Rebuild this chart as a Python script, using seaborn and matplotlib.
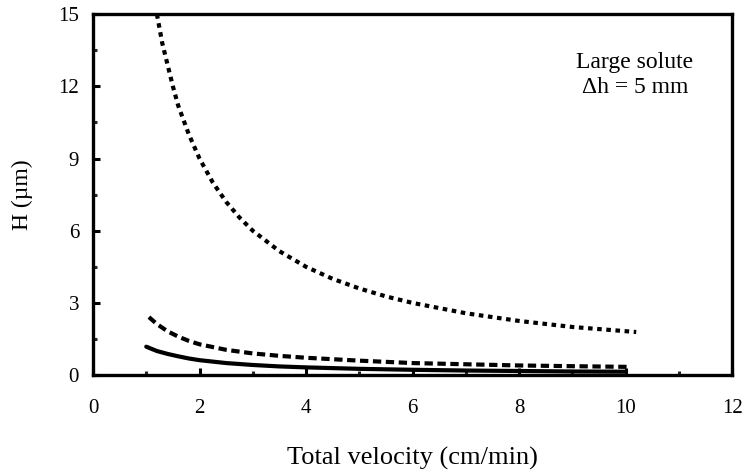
import matplotlib
matplotlib.use("Agg")
import matplotlib.pyplot as plt
import seaborn as sns
import pandas as pd
from matplotlib.ticker import MultipleLocator

# Data
v_top = [1.2, 1.3, 1.4, 1.5, 1.6, 1.8, 2.0, 2.25, 2.5, 2.75, 3.0, 3.5, 4.0, 4.5, 5.0, 5.5, 6.0, 7.0, 8.0, 9.0, 10.2]
h_top = [15.0, 13.8, 12.9, 12.0, 11.2, 10.0, 9.0, 8.0, 7.2, 6.55, 6.0, 5.15, 4.5, 4.0, 3.6, 3.27, 3.0, 2.57, 2.25, 2.0, 1.79]

v_mid = [1.05, 1.2, 1.4, 1.6, 1.8, 2.0, 2.5, 3.0, 3.5, 4.0, 5.0, 6.0, 7.0, 8.0, 9.0, 10.1]
h_mid = [2.41, 2.12, 1.82, 1.6, 1.42, 1.28, 1.05, 0.9, 0.8, 0.72, 0.6, 0.5, 0.45, 0.4, 0.37, 0.34]

v_low = [1.0, 1.2, 1.4, 1.6, 1.8, 2.0, 2.5, 3.0, 3.5, 4.0, 5.0, 6.0, 7.0, 8.0, 9.0, 10.0]
h_low = [1.18, 1.0, 0.88, 0.78, 0.69, 0.62, 0.5, 0.42, 0.36, 0.32, 0.26, 0.22, 0.19, 0.17, 0.15, 0.14]

x_ticks = [0, 2, 4, 6, 8, 10, 12]
y_ticks = [0, 3, 6, 9, 12, 15]

sns.set_theme(style="ticks")
plt.rcParams['font.family'] = ['Liberation Serif', 'DejaVu Serif']

fig = plt.figure(figsize=(7.44, 4.73), dpi=100)
ax = fig.add_axes([0.125, 0.207, 0.859, 0.763])

df_top = pd.DataFrame({"v": v_top, "H": h_top})
df_mid = pd.DataFrame({"v": v_mid, "H": h_mid})
df_low = pd.DataFrame({"v": v_low, "H": h_low})

sns.lineplot(data=df_top, x="v", y="H", ax=ax, color="black", lw=3.0,
             linestyle=(0, (1.1, 1.1)), dash_capstyle="butt")
sns.lineplot(data=df_mid, x="v", y="H", ax=ax, color="black", lw=3.0,
             linestyle=(0, (2.0, 1.1)), dash_capstyle="butt")
sns.lineplot(data=df_low, x="v", y="H", ax=ax, color="black", lw=3.0,
             linestyle="-")

ax.set_xlim(0, 12)
ax.set_ylim(0, 15)
ax.set_xticks(x_ticks)
ax.set_yticks(y_ticks)
ax.set_xticklabels([str(t) for t in x_ticks])
ax.set_yticklabels([str(t) for t in y_ticks])
ax.xaxis.set_minor_locator(MultipleLocator(1))
ax.yaxis.set_minor_locator(MultipleLocator(1.5))

for s in ax.spines.values():
    s.set_linewidth(2.4)
    s.set_color("black")
    s.set_visible(True)

ax.tick_params(axis="both", which="major", direction="in", length=5, width=2.2,
               labelsize=15, colors="black")
ax.tick_params(axis="both", which="minor", direction="in", length=3, width=2.2)
ax.tick_params(axis="x", which="major", pad=17)
ax.tick_params(axis="y", which="major", pad=10)
ax.tick_params(top=False, right=False, which="both")

ax.set_xlabel("Total velocity (cm/min)", fontsize=19, labelpad=21, color="black")
ax.set_ylabel("H (µm)", fontsize=17, labelpad=18, color="black")

ax.text(0.848, 0.832, "Large solute\nΔh = 5 mm", transform=ax.transAxes,
        ha="center", va="center", fontsize=17, linespacing=1.25, color="black",
        multialignment="center")

ax.grid(False)
fig.savefig("out.png", dpi=100, facecolor="white")
